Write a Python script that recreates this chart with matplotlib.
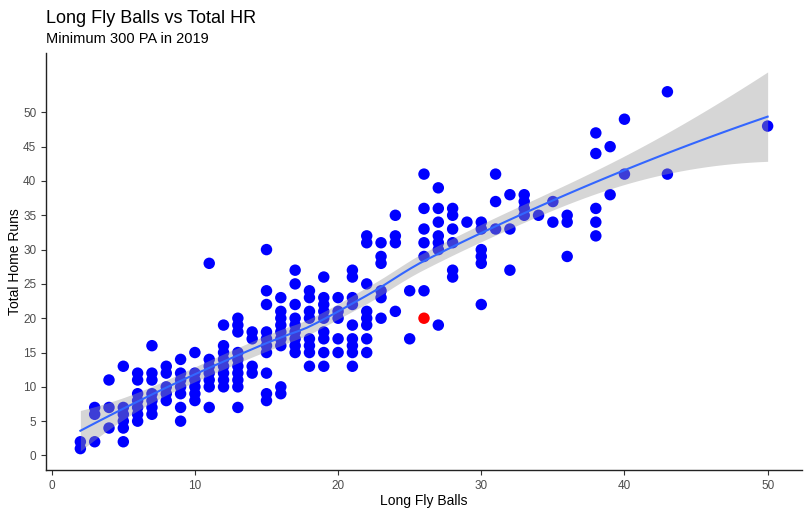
import numpy as np
import matplotlib
matplotlib.use("Agg")
import matplotlib.pyplot as plt

plt.rcParams['font.family'] = ['Liberation Sans', 'DejaVu Sans']

# ---- data: long fly balls (x) and total home runs (y) ----
fly_balls = [2, 2,
             3, 3, 3,
             4, 4, 4,
             5, 5, 5, 5, 5, 5,
             6, 6, 6, 6, 6, 6, 6,
             7, 7, 7, 7, 7, 7, 7,
             8, 8, 8, 8, 8,
             9, 9, 9, 9, 9, 9, 9,
             10, 10, 10, 10, 10, 10,
             11, 11, 11, 11, 11, 11, 11,
             12, 12, 12, 12, 12, 12, 12, 12,
             13, 13, 13, 13, 13, 13, 13, 13, 13, 13,
             14, 14, 14, 14,
             15, 15, 15, 15, 15, 15, 15, 15, 15, 15,
             16, 16, 16, 16, 16, 16, 16, 16, 16,
             17, 17, 17, 17, 17, 17, 17, 17, 17,
             18, 18, 18, 18, 18, 18, 18, 18,
             19, 19, 19, 19, 19, 19, 19, 19, 19,
             20, 20, 20, 20, 20,
             21, 21, 21, 21, 21, 21, 21, 21, 21,
             22, 22, 22, 22, 22, 22, 22, 22,
             23, 23, 23, 23, 23, 23,
             24, 24, 24, 24,
             25, 25,
             26, 26, 26, 26, 26, 26,
             27, 27, 27, 27, 27, 27, 27,
             28, 28, 28, 28, 28, 28,
             29,
             30, 30, 30, 30, 30, 30,
             31, 31, 31,
             32, 32, 32,
             33, 33, 33, 33,
             34,
             35, 35,
             36, 36, 36,
             38, 38, 38, 38, 38,
             39, 39,
             40, 40,
             43, 43,
             50]
home_runs = [1, 2,
             7, 6, 2,
             11, 7, 4,
             13, 7, 6, 5, 4, 2,
             12, 11, 9, 8, 7, 6, 5,
             16, 12, 11, 9, 8, 7, 6,
             13, 12, 10, 9, 8,
             14, 12, 11, 10, 9, 7, 5,
             15, 12, 11, 10, 9, 8,
             28, 14, 13, 12, 11, 10, 7,
             19, 16, 15, 14, 13, 12, 11, 10,
             20, 19, 18, 15, 14, 13, 12, 11, 10, 7,
             18, 17, 13, 12,
             30, 24, 22, 18, 17, 16, 15, 12, 9, 8,
             23, 21, 20, 19, 18, 17, 16, 10, 9,
             27, 25, 22, 20, 19, 18, 17, 16, 15,
             24, 23, 21, 20, 17, 16, 15, 13,
             26, 23, 22, 21, 20, 18, 17, 15, 13,
             23, 21, 20, 17, 15,
             27, 26, 23, 22, 19, 17, 16, 15, 13,
             32, 31, 25, 21, 20, 19, 17, 15,
             31, 29, 28, 24, 23, 20,
             35, 32, 31, 21,
             24, 17,
             41, 36, 33, 31, 29, 24,
             39, 36, 34, 32, 31, 30, 19,
             36, 35, 33, 31, 27, 26,
             34,
             34, 33, 30, 29, 28, 22,
             41, 37, 33,
             38, 33, 27,
             38, 37, 36, 35,
             35,
             37, 34,
             35, 34, 29,
             47, 44, 36, 34, 32,
             45, 38,
             49, 41,
             53, 41,
             48]
highlight_x = [26]
highlight_y = [20]

x_ticks = [0, 10, 20, 30, 40, 50]
y_ticks = [0, 5, 10, 15, 20, 25, 30, 35, 40, 45, 50]

# ---- loess (degree 2, span 0.75, kd-tree vertices + Hermite interpolation) ----
xa = np.array(fly_balls + highlight_x, dtype=float)
ya = np.array(home_runs + highlight_y, dtype=float)
n = len(xa)
SPAN = 0.75


def local_fit_rows(x0):
    q = int(np.floor(n * SPAN))
    d = np.abs(xa - x0)
    h = max(np.sort(d)[q - 1], 1e-9)
    u = np.clip(d / h, 0, 1)
    w = (1 - u ** 3) ** 3
    X = np.column_stack([np.ones(n), xa - x0, (xa - x0) ** 2])
    XtW = X.T * w
    cm = np.linalg.solve(XtW @ X, XtW)
    return cm[0], cm[1]


def kd_vertices():
    xs_sorted = np.sort(xa)
    rng = xs_sorted[-1] - xs_sorted[0]
    margin = 0.005 * rng
    verts = [xs_sorted[0] - margin, xs_sorted[-1] + margin]
    fc = int(np.floor(n * SPAN * 0.2))

    def split(pts):
        if len(pts) <= fc:
            return
        m = (len(pts) - 1) // 2
        if len(pts) % 2 == 0:
            v = 0.5 * (pts[m] + pts[m + 1])
        else:
            v = pts[m]
        left = pts[pts <= v]
        right = pts[pts > v]
        if len(left) == 0 or len(right) == 0:
            return
        verts.append(v)
        split(left)
        split(right)

    split(xs_sorted)
    return np.unique(verts)


verts = kd_vertices()
vrows = [local_fit_rows(v) for v in verts]


def interp_row(x0):
    k = np.searchsorted(verts, x0, side='right') - 1
    k = min(max(k, 0), len(verts) - 2)
    v0, v1 = verts[k], verts[k + 1]
    hh = v1 - v0
    t = (x0 - v0) / hh
    h00 = 2 * t ** 3 - 3 * t ** 2 + 1
    h10 = t ** 3 - 2 * t ** 2 + t
    h01 = -2 * t ** 3 + 3 * t ** 2
    h11 = t ** 3 - t ** 2
    f0, s0 = vrows[k]
    f1, s1 = vrows[k + 1]
    return h00 * f0 + h10 * hh * s0 + h01 * f1 + h11 * hh * s1


L = np.array([interp_row(x0) for x0 in xa])
res = ya - L @ ya
I_L = np.eye(n) - L
delta1 = np.trace(I_L.T @ I_L)
sigma = np.sqrt(np.sum(res ** 2) / delta1)
tval = 1.97

xs = np.linspace(xa.min(), xa.max(), 80)
ls = np.array([interp_row(x0) for x0 in xs])
ys = ls @ ya
se = sigma * np.sqrt(np.sum(ls ** 2, axis=1))
lo = ys - tval * se
hi = ys + tval * se

# ---- figure ----
fig = plt.figure(figsize=(8.1, 5.16), dpi=100)
ax = fig.add_axes([46 / 810, (516 - 470) / 516, (802 - 46) / 810, (470 - 53) / 516])

ax.scatter(fly_balls, home_runs, s=68, color='#0000FF', edgecolors='none', zorder=2)
ax.scatter(highlight_x, highlight_y, s=68, color='#FF0000', edgecolors='none', zorder=2)
ax.fill_between(xs, lo, hi, color='#999999', alpha=0.4, linewidth=0, zorder=3)
ax.plot(xs, ys, color='#3366FF', linewidth=1.5, zorder=4)

xmin, xmax = xa.min(), xa.max()
xr = xmax - xmin
ax.set_xlim(xmin - 0.05 * xr, xmax + 0.05 * xr)
ymin = min(ya.min(), lo.min())
ymax = max(ya.max(), hi.max())
yr = ymax - ymin
ax.set_ylim(ymin - 0.05 * yr, ymax + 0.05 * yr)

ax.set_xticks(x_ticks)
ax.set_yticks(y_ticks)
ax.tick_params(axis='both', colors='#333333', labelcolor='#4D4D4D', labelsize=8.5, length=3.5, width=0.8)
for s in ['top', 'right']:
    ax.spines[s].set_visible(False)
for s in ['left', 'bottom']:
    ax.spines[s].set_color('#222222')
    ax.spines[s].set_linewidth(1.0)

ax.set_xlabel('Long Fly Balls', fontsize=10, color='black')
ax.set_ylabel('Total Home Runs', fontsize=10, color='black')
ax.xaxis.set_label_coords(0.5, -(501 - 470) / (470 - 53), transform=ax.transAxes)
ax.xaxis.label.set_va('center')
ax.yaxis.set_label_coords(-(46 - 15) / 756, 0.5)
ax.yaxis.label.set_va('center')

fig.text(46 / 810, 1 - 23 / 516, 'Long Fly Balls vs Total HR', fontsize=13, ha='left', va='baseline', color='black')
fig.text(46 / 810, 1 - 43 / 516, 'Minimum 300 PA in 2019', fontsize=10.5, ha='left', va='baseline', color='black')

fig.savefig('out.png', dpi=100)
